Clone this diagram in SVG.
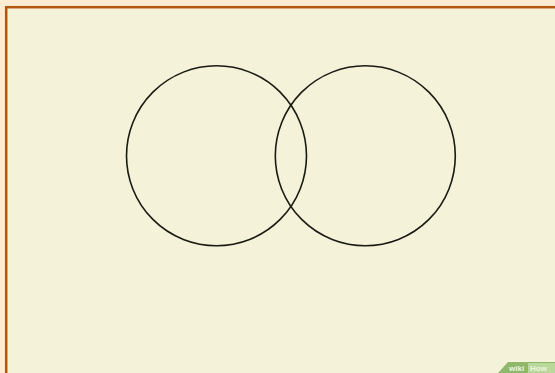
<svg xmlns="http://www.w3.org/2000/svg" width="555" height="373" viewBox="0 0 555 373">
<style>
.c{fill:none;stroke:#1a1a14;stroke-width:1.6}
.wm{font-family:"Liberation Sans",Arial,sans-serif;font-size:8px;font-weight:bold}
</style>
<rect x="0" y="0" width="555" height="373" fill="#fdebd3"/>
<rect x="6.2" y="7.2" width="560" height="380" fill="#f4f3d9" stroke="#b0560f" stroke-width="2.5"/>
<g id="circle-left"><circle class="c" cx="216.5" cy="155.8" r="90"/></g>
<g id="circle-right"><circle class="c" cx="365.3" cy="155.8" r="90"/></g>
<g id="connectors"/>
<g id="watermark">
<polygon points="498,373 508,362 555,362 555,373" fill="#8fb86a"/>
<rect x="528" y="363" width="27" height="10" fill="#b9d89a"/>
<text class="wm" x="509" y="371" fill="#eef5e0">wiki</text>
<text class="wm" x="530" y="371" fill="#eef5e0">How</text>
</g>
</svg>
